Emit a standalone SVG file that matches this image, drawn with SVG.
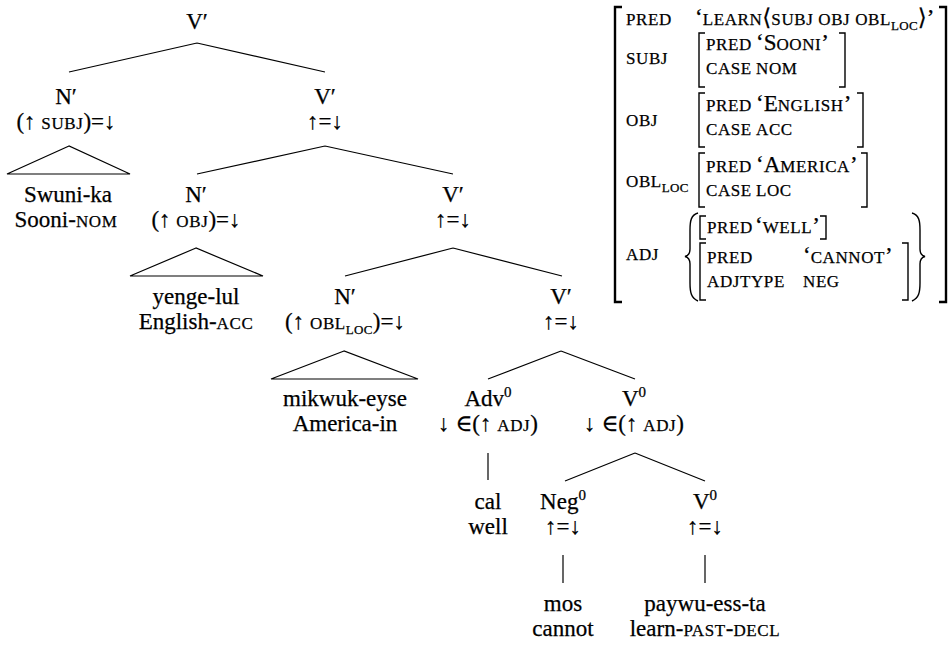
<svg xmlns="http://www.w3.org/2000/svg" width="951" height="646" viewBox="0 0 951 646">
<style>
text { font-family: "Liberation Serif", "DejaVu Serif", serif; font-size: 23px; fill: #000; stroke: #000; stroke-width: 0.25px; }
.m { text-anchor: middle; }
.sc { font-size: 17px; letter-spacing: 0.6px; }
.sub { font-size: 13px; letter-spacing: 0.3px; }
.sup { font-size: 15px; }
.edge { stroke: #000; stroke-width: 1.2; fill: none; }
.brk { stroke: #000; stroke-width: 1.4; fill: none; }
.obrk { stroke: #000; stroke-width: 2.4; fill: none; }
</style>
<rect width="951" height="646" fill="#fff"/>

<g id="connectors">
  <path class="edge" d="M197,43 L69,72 M197,43 L325,72"/>
  <path class="edge" d="M69,146 L7,174 L130,174 Z"/>
  <path class="edge" d="M325,146 L197,174 M325,146 L453,174"/>
  <path class="edge" d="M196,248 L130,276 L263,276 Z"/>
  <path class="edge" d="M453,248 L345,276 M453,248 L562,276"/>
  <path class="edge" d="M344,351 L271,379 L418,379 Z"/>
  <path class="edge" d="M561,351 L488,379 M561,351 L635,379"/>
  <path class="edge" d="M488,453 L488,480"/>
  <path class="edge" d="M635,453 L565,481 M635,453 L705,481"/>
  <path class="edge" d="M563,555 L563,583"/>
  <path class="edge" d="M705,555 L705,583"/>
</g>

<g id="n-vbar-root"><text class="m" x="197" y="29">V′</text></g>

<g id="n-np-subj">
  <text class="m" x="66" y="104">N′</text>
  <text class="m" x="66" y="129">(↑ <tspan class="sc">SUBJ</tspan>)=↓</text>
</g>
<g id="n-vbar-1">
  <text class="m" x="325" y="104">V′</text>
  <text class="m" x="325" y="129">↑=↓</text>
</g>
<g id="n-swunika">
  <text class="m" x="68" y="202">Swuni-ka</text>
  <text class="m" x="66" y="227">Sooni-<tspan class="sc">NOM</tspan></text>
</g>
<g id="n-np-obj">
  <text class="m" x="196" y="202">N′</text>
  <text class="m" x="196" y="227">(↑ <tspan class="sc">OBJ</tspan>)=↓</text>
</g>
<g id="n-vbar-2">
  <text class="m" x="453" y="202">V′</text>
  <text class="m" x="453" y="227">↑=↓</text>
</g>
<g id="n-yengelul">
  <text class="m" x="196" y="304">yenge-lul</text>
  <text class="m" x="196" y="329">English-<tspan class="sc">ACC</tspan></text>
</g>
<g id="n-np-obl">
  <text class="m" x="345" y="304">N′</text>
  <text class="m" x="345" y="329">(↑ <tspan class="sc">OBL</tspan><tspan class="sub" dy="5">LOC</tspan><tspan dy="-5">)=↓</tspan></text>
</g>
<g id="n-vbar-3">
  <text class="m" x="561" y="304">V′</text>
  <text class="m" x="561" y="329">↑=↓</text>
</g>
<g id="n-mikwukeyse">
  <text class="m" x="345" y="406">mikwuk-eyse</text>
  <text class="m" x="345" y="431">America-in</text>
</g>
<g id="n-adv">
  <text class="m" x="488" y="406">Adv<tspan class="sup" dy="-9">0</tspan></text>
  <text class="m" x="488" y="431">↓ ∈(↑ <tspan class="sc">ADJ</tspan>)</text>
</g>
<g id="n-v0-upper">
  <text class="m" x="634" y="406">V<tspan class="sup" dy="-9">0</tspan></text>
  <text class="m" x="634" y="431">↓ ∈(↑ <tspan class="sc">ADJ</tspan>)</text>
</g>
<g id="n-cal">
  <text class="m" x="488" y="509">cal</text>
  <text class="m" x="488" y="534">well</text>
</g>
<g id="n-neg">
  <text class="m" x="563" y="509">Neg<tspan class="sup" dy="-9">0</tspan></text>
  <text class="m" x="563" y="534">↑=↓</text>
</g>
<g id="n-v0-lower">
  <text class="m" x="705" y="509">V<tspan class="sup" dy="-9">0</tspan></text>
  <text class="m" x="705" y="534">↑=↓</text>
</g>
<g id="n-mos">
  <text class="m" x="563" y="611">mos</text>
  <text class="m" x="563" y="636">cannot</text>
</g>
<g id="n-paywu">
  <text class="m" x="705" y="611">paywu-ess-ta</text>
  <text class="m" x="705" y="636">learn-<tspan class="sc">PAST</tspan>-<tspan class="sc">DECL</tspan></text>
</g>

<g id="avm">
  <path class="obrk" d="M622,7 H615 V302 H622"/>
  <path class="obrk" d="M939,7 H946 V302 H939"/>
  <g id="avm-pred">
    <text x="626" y="25"><tspan class="sc">PRED</tspan></text>
    <text x="695" y="25">‘<tspan class="sc">LEARN</tspan>⟨<tspan class="sc">SUBJ OBJ OBL</tspan><tspan class="sub" dy="5">LOC</tspan><tspan dy="-5">⟩’</tspan></text>
  </g>
  <g id="avm-subj">
    <text x="626" y="64"><tspan class="sc">SUBJ</tspan></text>
    <path class="brk" d="M705,33 H699 V87 H705 M839,33 H845 V87 H839"/>
    <text x="706" y="50"><tspan class="sc">PRED</tspan></text>
    <text x="756" y="50">‘S<tspan class="sc">OONI</tspan>’</text>
    <text x="706" y="74"><tspan class="sc">CASE</tspan></text>
    <text x="756" y="74"><tspan class="sc">NOM</tspan></text>
  </g>
  <g id="avm-obj">
    <text x="626" y="126"><tspan class="sc">OBJ</tspan></text>
    <path class="brk" d="M705,93 H699 V147 H705 M857,93 H863 V147 H857"/>
    <text x="706" y="111"><tspan class="sc">PRED</tspan></text>
    <text x="756" y="111">‘E<tspan class="sc">NGLISH</tspan>’</text>
    <text x="706" y="135"><tspan class="sc">CASE</tspan></text>
    <text x="756" y="135"><tspan class="sc">ACC</tspan></text>
  </g>
  <g id="avm-obl">
    <text x="626" y="187"><tspan class="sc">OBL</tspan><tspan class="sub" dy="5">LOC</tspan></text>
    <path class="brk" d="M705,153 H699 V207 H705 M861,153 H867 V207 H861"/>
    <text x="706" y="172"><tspan class="sc">PRED</tspan></text>
    <text x="756" y="172">‘A<tspan class="sc">MERICA</tspan>’</text>
    <text x="706" y="196"><tspan class="sc">CASE</tspan></text>
    <text x="756" y="196"><tspan class="sc">LOC</tspan></text>
  </g>
  <g id="avm-adj">
    <text x="626" y="260"><tspan class="sc">ADJ</tspan></text>
    <path class="brk" d="M698,213 C691,215 690,221 690,230 L690,249 C690,253 689,255.5 685,256.5 C689,257.5 690,260 690,264 L690,283 C690,292 691,298 698,301"/>
    <path class="brk" d="M912,213 C919,215 920,221 920,230 L920,249 C920,253 921,255.5 925,256.5 C921,257.5 920,260 920,264 L920,283 C920,292 919,298 912,301"/>
    <path class="brk" d="M706,216 H700 V239 H706 M820,216 H826 V239 H820"/>
    <text x="707" y="233"><tspan class="sc">PRED</tspan></text>
    <text x="755" y="233">‘<tspan class="sc">WELL</tspan>’</text>
    <path class="brk" d="M706,243 H700 V300 H706 M902,243 H908 V300 H902"/>
    <text x="707" y="263"><tspan class="sc">PRED</tspan></text>
    <text x="803" y="263">‘<tspan class="sc">CANNOT</tspan>’</text>
    <text x="707" y="287"><tspan class="sc">ADJTYPE</tspan></text>
    <text x="803" y="287"><tspan class="sc">NEG</tspan></text>
  </g>
</g>
</svg>
